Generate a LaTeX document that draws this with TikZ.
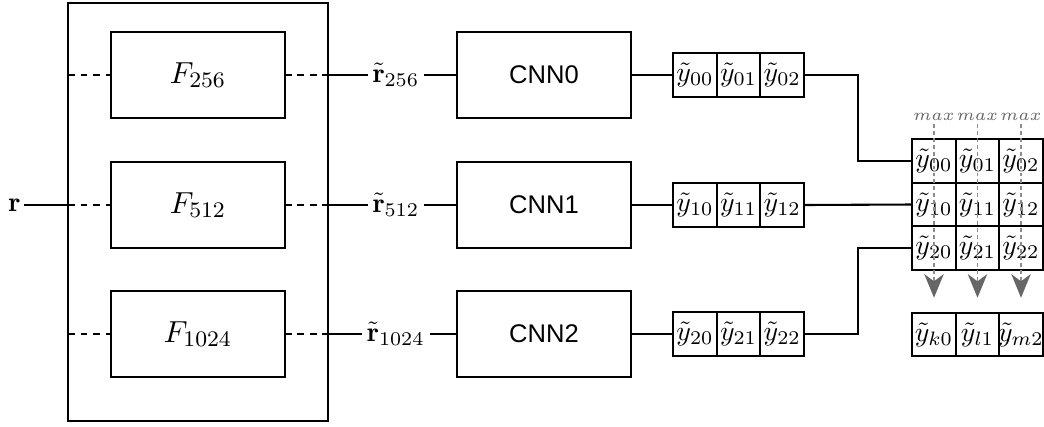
\documentclass[tikz,border=0pt]{standalone}
\usepackage{amsmath}
\usepackage{fontspec}
\newfontfamily\cnnfont{Liberation Sans}
\usetikzlibrary{positioning,arrows.meta}

% keep every score cell the same width
\newcommand\ycell[1]{\makebox[15pt]{$\tilde{y}_{#1}$}}

\begin{document}
\begin{tikzpicture}[
    x=0.36pt, y=-0.36pt,
    every node/.style={font=\normalsize},
    wire/.style={line width=0.75pt},
    dashwire/.style={line width=0.75pt, dash pattern=on 2.5pt off 2pt},
    filterbox/.style={draw, line width=0.75pt, minimum width=62.6pt, minimum height=31pt, inner sep=0pt, outer sep=0pt, font=\fontsize{10.8}{12}\selectfont},
    cnnbox/.style={filterbox, font={\cnnfont\fontsize{9.2}{11}\selectfont}},
    cell/.style={draw, line width=0.75pt, minimum width=15.7pt, minimum height=15.8pt, inner sep=0pt, outer sep=0pt},
    reslabel/.style={inner sep=1.5pt},
    maxlabel/.style={font=\fontsize{6}{7}\selectfont, text=black!60, inner sep=1pt},
    maxline/.style={black!45, line width=0.5pt, dash pattern=on 1.4pt off 1.1pt,
                    -{Stealth[length=8.5pt, width=7pt, inset=2.6pt, color=black!60, fill=black!60]}}
]
\useasboundingbox (0,0) rectangle (1044,426);

% filter bank
\node[draw, line width=0.75pt, minimum width=93.6pt, minimum height=150.5pt, outer sep=0pt] (bank) at (198,212) {};
\node[inner sep=1pt] (r) at (14.5,205) {$\mathbf{r}$};
\draw[wire] (r.east) -- (r.east -| bank.west);

\foreach \i/\n/\yy in {0/256/75, 1/512/205, 2/1024/334} {
  \node[filterbox] (F\i) at (198,\yy) {$F_{\n}$};
  \node[reslabel] (rt\i) at (396,\yy) {$\tilde{\mathbf{r}}_{\n}$};
  \node[cnnbox] (cnn\i) at (544,\yy) {CNN\i};
  \draw[dashwire] (F\i.west -| bank.west) -- (F\i.west);
  \draw[dashwire] (F\i.east) -- (F\i.east -| bank.east);
  \draw[wire] (F\i.east -| bank.east) -- (rt\i.west);
  \draw[wire] (rt\i.east) -- (cnn\i.west);
  % scores of each CNN
  \node[cell] (y\i0) at (695,\yy) {\ycell{\i0}};
  \node[cell, right=0pt of y\i0] (y\i1) {\ycell{\i1}};
  \node[cell, right=0pt of y\i1] (y\i2) {\ycell{\i2}};
  \draw[wire] (cnn\i.east) -- (y\i0.west);
}

% stacked scores
\foreach \r in {0,1,2} {
  \foreach \c in {0,1,2} {
    \node[cell] (m\r\c) at ({934+43.5*\c},{161+43.5*\r}) {\ycell{\r\c}};
  }
}
\draw[wire] (y02.east) -- ++(54,0) |- (m00.west);
\draw[wire] (y12.east) -- (m10.west);
\draw[wire] (y22.east) -- ++(54,0) |- (m20.west);

% column-wise max
\node[cell] (out0) at (934,334.5) {\ycell{k0}};
\node[cell] (out1) at (977.5,334.5) {\ycell{l1}};
\node[cell] (out2) at (1021,334.5) {\ycell{m2}};
\foreach \c in {0,1,2} {
  \node[maxlabel] (max\c) at ({934+43.5*\c},117) {$max$};
  \draw[maxline] (max\c.south) -- ([yshift=-10pt]m2\c.south);
}

\end{tikzpicture}
\end{document}
